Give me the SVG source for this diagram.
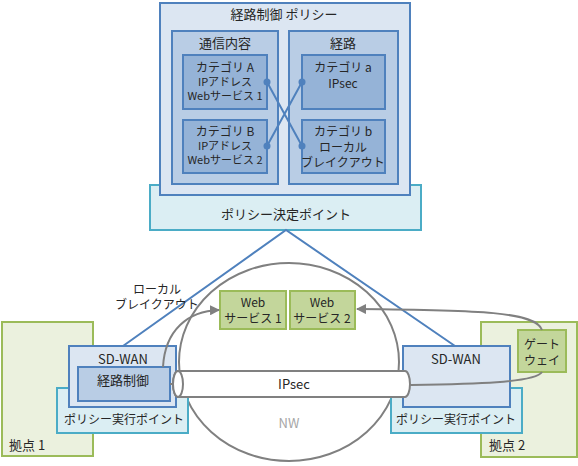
<svg xmlns="http://www.w3.org/2000/svg" width="578" height="466" viewBox="0 0 578 466">
<defs>
<style>
text{font-family:"Noto Sans CJK JP","Liberation Sans",sans-serif;font-size:13px;fill:#262626;text-anchor:middle}
.s{font-size:11px}
.m{font-size:12px}
.l{text-anchor:start}
.pol{fill:#DCE6F2;stroke:#4F81BD;stroke-width:2}
.mid{fill:#B9CDE5;stroke:#4F81BD;stroke-width:2}
.cat{fill:#95B3D7;stroke:#4F81BD;stroke-width:2}
.pt{fill:#DBEEF3;stroke:#4BACC6;stroke-width:2}
.site{fill:#EBF1DE;stroke:#9BBB59;stroke-width:2}
.gr{fill:#C3D69B;stroke:#9BBB59;stroke-width:2}
.bl{stroke:#4F81BD;stroke-width:2;fill:none}
.gy{stroke:#808080;stroke-width:2;fill:none}
</style>
<marker id="ah" viewBox="0 0 10 10" refX="9" refY="5" markerWidth="5" markerHeight="5" orient="auto"><path d="M0,0L10,5L0,10z" fill="#808080"/></marker>
</defs>
<g id="site1"><rect class="site" x="2" y="322" width="91" height="134"/><text class="l" x="9" y="450">拠点 1</text></g>
<g id="site2"><rect class="site" x="481" y="322" width="96" height="135"/><text class="l" x="489" y="450">拠点 2</text></g>
<g id="nw"><ellipse cx="289" cy="362" rx="110" ry="99" fill="none" stroke="#808080" stroke-width="2"/><text x="289" y="428" style="fill:#A6A6A6">NW</text></g>
<g id="pdp"><rect class="pt" x="150" y="185" width="271" height="45"/><text x="286" y="219">ポリシー決定ポイント</text></g>
<g id="policy">
<rect class="pol" x="160" y="3" width="250" height="192"/><text x="284" y="19">経路制御 ポリシー</text>
<rect class="mid" x="172" y="31" width="106" height="153"/><text x="225" y="48">通信内容</text>
<rect class="mid" x="289" y="31" width="109" height="153"/><text x="343" y="48">経路</text>
</g>
<g id="catA"><rect class="cat" x="183" y="55" width="84" height="54"/><text class="m" x="225" y="72">カテゴリ A</text><text class="s" x="225" y="86">IPアドレス</text><text class="s" x="225" y="100">Webサービス 1</text></g>
<g id="catB"><rect class="cat" x="183" y="120" width="84" height="53"/><text class="m" x="225" y="136">カテゴリ B</text><text class="s" x="225" y="150">IPアドレス</text><text class="s" x="225" y="164">Webサービス 2</text></g>
<g id="cata"><rect class="cat" x="302" y="55" width="83" height="54"/><text class="m" x="343" y="72">カテゴリ a</text><text class="m" x="343" y="88">IPsec</text></g>
<g id="catb"><rect class="cat" x="302" y="120" width="83" height="53"/><text class="m" x="343" y="136">カテゴリ b</text><text class="m" x="343" y="152">ローカル</text><text class="m" x="343" y="167">ブレイクアウト</text></g>
<g id="pep1"><rect class="pt" x="57" y="388" width="131" height="45"/><text class="m" x="124" y="424">ポリシー実行ポイント</text></g>
<g id="pep2"><rect class="pt" x="391" y="388" width="131" height="45"/><text class="m" x="456" y="424">ポリシー実行ポイント</text></g>
<g id="sdwan1"><rect class="pol" x="69" y="346" width="107" height="61"/><text x="123" y="364">SD-WAN</text></g>
<g id="route1"><rect class="mid" x="78" y="367" width="92" height="34"/><text x="123" y="385">経路制御</text></g>
<g id="sdwan2"><rect class="pol" x="403" y="346" width="107" height="61"/><text x="456" y="364">SD-WAN</text></g>
<g id="web1"><rect class="gr" x="220" y="291" width="66" height="38"/><text class="m" x="253" y="307">Web</text><text class="m" x="253" y="323">サービス 1</text></g>
<g id="web2"><rect class="gr" x="290" y="291" width="65" height="38"/><text class="m" x="322" y="307">Web</text><text class="m" x="322" y="323">サービス 2</text></g>
<g id="gateway"><rect class="gr" x="518" y="330" width="48" height="42"/><text class="m" x="542" y="349">ゲート</text><text class="m" x="542" y="365">ウェイ</text></g>
<g id="ipsec">
<path d="M178,371H405A5,13 0 0 1 405,397H178A5,13 0 0 1 178,371Z" fill="#fff" stroke="#808080" stroke-width="2"/>
<ellipse cx="178" cy="384" rx="5" ry="13" fill="#fff" stroke="#808080" stroke-width="2"/>
<text x="294" y="389">IPsec</text>
</g>
<g id="connectors">
<path class="bl" d="M267,82L302,146M267,146L302,82"/>
<circle cx="267" cy="82" r="3.5" fill="#4F81BD"/><circle cx="267" cy="146" r="3.5" fill="#4F81BD"/>
<circle cx="302" cy="82" r="3.5" fill="#4F81BD"/><circle cx="302" cy="146" r="3.5" fill="#4F81BD"/>
<path class="bl" d="M123,346L286,230L455,346"/>
<path class="gy" d="M170,384H173"/>
<path class="gy" d="M163,367C165,330 188,311 219,310" marker-end="url(#ah)"/>
<path class="gy" d="M542,330C536,312 480,310 357,309" marker-end="url(#ah)"/>
<path class="gy" d="M410,385C470,384 535,383 542,372"/>
</g>
<text class="m" x="157" y="294">ローカル</text>
<text class="m" x="157" y="309">ブレイクアウト</text>
</svg>
